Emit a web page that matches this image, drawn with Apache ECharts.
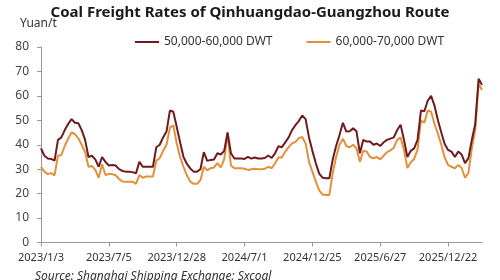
<!DOCTYPE html>
<html><head><meta charset="utf-8">
<script src="https://cdn.jsdelivr.net/npm/echarts@6/dist/echarts.min.js"></script>
<style>html,body{margin:0;padding:0;background:#fff}#c{width:500px;height:280px}</style>
</head><body><div id="c"></div>
<script>
var title = 'Coal Freight Rates of Qinhuangdao-Guangzhou Route';
var unitLabel = 'Yuan/t';
var sourceText = 'Source: Shanghai Shipping Exchange; Sxcoal';
var seriesNames = ['50,000-60,000 DWT', '60,000-70,000 DWT'];
var categories = [
'2023/1/3','2023/1/12','2023/1/20','2023/1/31','2023/2/9','2023/2/17','2023/2/27','2023/3/8','2023/3/17','2023/3/27',
'2023/4/4','2023/4/13','2023/4/21','2023/5/4','2023/5/12','2023/5/22','2023/5/31','2023/6/8','2023/6/16','2023/6/27',
'2023/7/5','2023/7/13','2023/7/21','2023/8/1','2023/8/9','2023/8/17','2023/8/25','2023/9/5','2023/9/13','2023/9/21',
'2023/10/9','2023/10/17','2023/10/25','2023/11/2','2023/11/10','2023/11/20','2023/11/28','2023/12/6','2023/12/14','2023/12/20',
'2023/12/28','2024/1/8','2024/1/16','2024/1/24','2024/2/1','2024/2/19','2024/2/27','2024/3/6','2024/3/14','2024/3/22',
'2024/4/1','2024/4/10','2024/4/18','2024/4/26','2024/5/9','2024/5/17','2024/5/27','2024/6/4','2024/6/13','2024/6/21',
'2024/7/1','2024/7/9','2024/7/17','2024/7/25','2024/8/2','2024/8/12','2024/8/20','2024/8/28','2024/9/5','2024/9/13',
'2024/9/24','2024/10/10','2024/10/18','2024/10/28','2024/11/5','2024/11/13','2024/11/21','2024/11/29','2024/12/9','2024/12/17',
'2024/12/25','2025/1/6','2025/1/14','2025/1/22','2025/2/6','2025/2/14','2025/2/24','2025/3/4','2025/3/12','2025/3/20',
'2025/3/28','2025/4/9','2025/4/17','2025/4/25','2025/5/8','2025/5/16','2025/5/26','2025/6/4','2025/6/12','2025/6/19',
'2025/6/27','2025/7/7','2025/7/15','2025/7/23','2025/7/31','2025/8/8','2025/8/18','2025/8/26','2025/9/3','2025/9/11',
'2025/9/19','2025/9/29','2025/10/14','2025/10/22','2025/10/30','2025/11/7','2025/11/17','2025/11/25','2025/12/3','2025/12/11',
'2025/12/22','2026/1/5','2026/1/13','2026/1/21','2026/1/29','2026/2/6','2026/2/24','2026/3/4','2026/3/12','2026/3/20',
'2026/3/27'
];
var rates5060 = [
38.5,35.5,34.4,34.2,33.5,42,43,46,48.5,50.5,
49,48.8,46,42,35,35.5,34,31,35,33,
31.5,31.7,31.5,30,29.3,29,29,28.8,28.3,33,
31,31,31,31,39,40,43,45.4,54,53.5,
47.4,41,35,32.2,30.3,29,29,30,37,33.4,
33.8,34,36.5,36,37.5,45,36.5,34.4,34.4,34.4,
34.2,35,34.3,34.8,34.4,34.4,34.6,35.6,34.6,36.5,
39.4,39,41,43,46,48,49.7,52,50.5,43,
37.5,32.5,28.2,26.5,26.3,26.3,34,39.5,44,49,
45.4,45.5,46.7,45.5,36.5,42,41.3,41.3,40,40.5,
39.5,41,42,42.5,43,46,48.2,42,35,37.5,
38.5,42,54,53.7,58,60,56,50,45,40.3,
37.9,37.2,35,37.2,36,32.5,34.5,42,48.5,67,
64.5
];
var rates6070 = [
31,29,28,28.4,27.5,35.5,35.8,39.5,42.5,45,
44.4,42.6,40,37,31,31.3,29.7,26.5,32,27.6,
28,28,27.5,26,25,24.9,24.9,24.9,24,27.6,
26.5,27,27,27,33.5,34.5,37.5,40,47,48,
40.6,35,31,27.5,24.9,24,24,25.5,31,29.5,
30.4,30.7,32.5,30.7,34,44.5,31.5,30.4,30.4,30.4,
30.2,29.7,30,30.2,30,30,30.2,31,30.4,32.4,
34.8,34.8,37.2,39,40.6,41.2,42.7,43.2,40.5,33,
29,25,21.3,19.6,19.4,19.4,28.5,35,40,42.5,
39.5,39,40,38.5,33,37.5,37.2,35,34.5,35,
34,35.5,37,37.7,38.8,42,43,37.9,30.5,32.8,
34.2,38,50,49,54,53.5,48.5,44.5,40,34.8,
31.7,31,30.4,31.7,30.5,26.5,28.5,38.5,46,65,
62.4
];
var yMin = 0, yMax = 80, yStep = 10;
var labelEvery = 20;

var chart = echarts.init(document.getElementById('c'), null, {renderer: 'canvas'});
var font = 'Noto Sans';
chart.setOption({
  animation: false,
  backgroundColor: '#ffffff',
  title: {
    text: title, left: 'center', top: 0,
    textStyle: {fontFamily: font, fontWeight: 'bold', fontSize: 15, color: '#1a1a1a'}
  },
  graphic: [
    {type: 'text', left: 20, top: 18, style: {text: unitLabel, fontFamily: font, fontSize: 12, fill: '#333'}},
    {type: 'text', left: 35, top: 271, style: {text: sourceText, fontFamily: font, fontStyle: 'italic', fontSize: 12, fill: '#333'}}
  ],
  legend: {
    left: 130, top: 31, itemWidth: 24, itemHeight: 2, itemGap: 34, icon: 'rect',
    textStyle: {fontFamily: font, fontSize: 12, color: '#333'},
    data: seriesNames
  },
  grid: {left: 41, right: 18, top: 47, bottom: 37.5, containLabel: false},
  xAxis: {
    type: 'category', data: categories, boundaryGap: false,
    axisLine: {lineStyle: {color: '#999'}},
    axisTick: {interval: labelEvery - 1, length: 4, lineStyle: {color: '#999'}},
    axisLabel: {interval: labelEvery - 1, fontFamily: font, fontSize: 11, color: '#333', margin: 10}
  },
  yAxis: {
    type: 'value', min: yMin, max: yMax, interval: yStep,
    splitLine: {show: false},
    axisLine: {show: true, lineStyle: {color: '#999'}},
    axisTick: {show: true, length: 4, lineStyle: {color: '#999'}},
    axisLabel: {fontFamily: font, fontSize: 12, color: '#444', margin: 12}
  },
  series: [
    {name: seriesNames[0], type: 'line', data: rates5060, showSymbol: false, symbol: 'none',
     lineStyle: {color: '#6e1a1e', width: 2}, itemStyle: {color: '#6e1a1e'}, z: 3},
    {name: seriesNames[1], type: 'line', data: rates6070, showSymbol: false, symbol: 'none',
     lineStyle: {color: '#e3903a', width: 2}, itemStyle: {color: '#e3903a'}, z: 2}
  ]
});
</script></body></html>
